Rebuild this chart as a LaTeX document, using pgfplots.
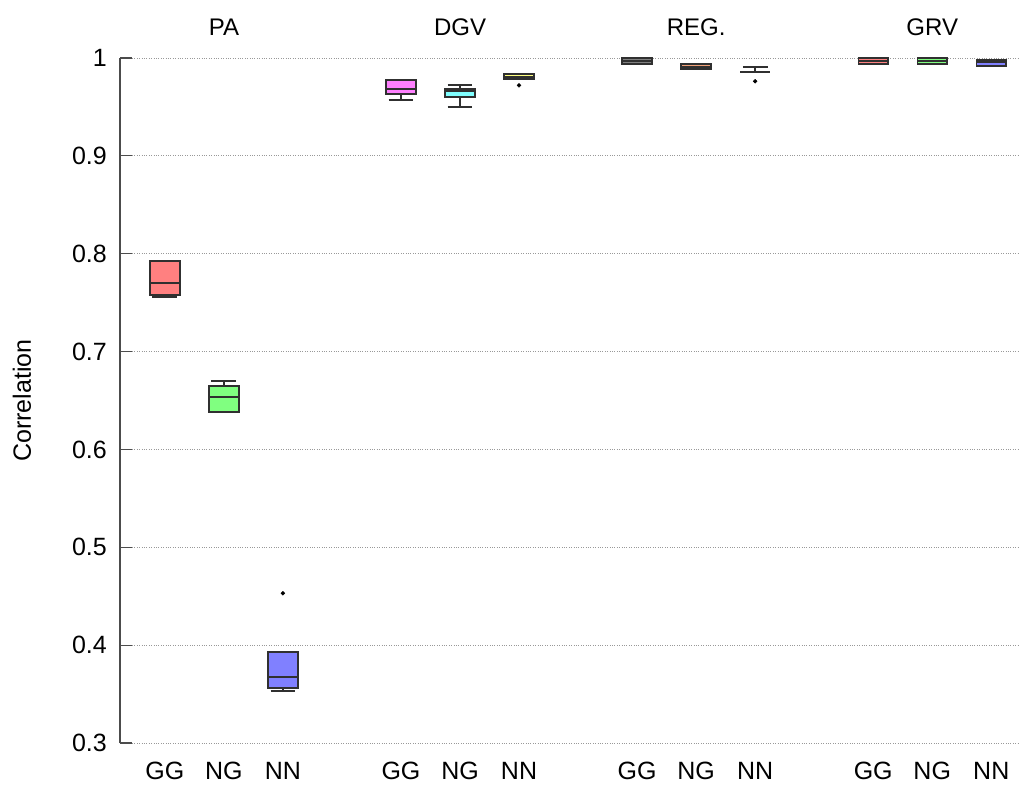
\documentclass[border=0pt]{standalone}
\usepackage{pgfplots}
\pgfplotsset{compat=1.18}
\usepgfplotslibrary{statistics}
\usepackage{fontspec}
\setmainfont{Liberation Sans}

\definecolor{bred}{HTML}{FF8080}
\definecolor{bgreen}{HTML}{80FF80}
\definecolor{bblue}{HTML}{8080FF}
\definecolor{bmagenta}{HTML}{FF80FF}
\definecolor{bcyan}{HTML}{80FFFF}
\definecolor{byellow}{HTML}{FFFF80}
\definecolor{bgray}{HTML}{808080}
\definecolor{borange}{HTML}{F0A078}
\definecolor{edge}{HTML}{303030}

\pgfplotsset{
  bx/.style={
    draw=edge, line width=1.9pt, solid,
    mark=*, mark size=1.9pt,
    mark options={draw=black, fill=black, line width=0.5pt},
    boxplot/box extend=0.5,
    boxplot/whisker extend=0.42,
    boxplot/every box/.style={draw=edge, line width=1.9pt},
    boxplot/every whisker/.style={draw=edge, line width=1.9pt},
    boxplot/every median/.style={draw=edge, line width=1.9pt},
  },
}

\begin{document}
\begin{tikzpicture}
\useasboundingbox (0,0) rectangle (1019pt,-784pt);
\begin{axis}[
  at={(120pt,-743pt)}, anchor=south west,
  scale only axis, width=899pt, height=685pt,
  xmin=-0.76, xmax=14.47, ymin=0.3, ymax=1,
  xtick={0,1,2,4,5,6,8,9,10,12,13,14},
  xticklabels={GG,NG,NN,GG,NG,NN,GG,NG,NN,GG,NG,NN},
  ytick={0.3,0.4,0.5,0.6,0.7,0.8,0.9,1},
  ymajorgrids,
  major grid style={dotted, draw=gray!80, line width=0.9pt},
  separate axis lines,
  axis x line*=bottom, axis y line*=left,
  x axis line style={draw=none},
  y axis line style={draw=black!70, line width=1.2pt, -},
  xtick style={draw=none},
  ytick style={draw=black!70, line width=1.2pt},
  tick align=inside, major tick length=12pt,
  /pgf/number format/assume math mode=true,
  tick label style={font=\fontsize{25}{30}\selectfont},
  xticklabel style={inner sep=0pt, yshift=-19pt},
  yticklabel style={inner sep=0pt, xshift=-13pt,
    /pgf/number format/fixed, /pgf/number format/precision=1},
  ylabel={Correlation},
  ylabel style={at={(axis description cs:-0.109,0.5)}, anchor=center,
    font=\fontsize{25}{30}\selectfont},
  clip=false,
  boxplot/draw direction=y,
]
% PA
\addplot[bx, fill=bred, boxplot prepared={draw position=0,
  lower whisker=0.7558, lower quartile=0.7575, median=0.7698,
  upper quartile=0.7929, upper whisker=0.7929}] coordinates {};
\addplot[bx, fill=bgreen, boxplot prepared={draw position=1,
  lower whisker=0.6383, lower quartile=0.6383, median=0.6532,
  upper quartile=0.6651, upper whisker=0.6699}] coordinates {};
\addplot[bx, fill=bblue, boxplot prepared={draw position=2,
  lower whisker=0.3535, lower quartile=0.3559, median=0.3671,
  upper quartile=0.3927, upper whisker=0.3927}]
  table[row sep=\\, y index=0] {0.4530\\};
% DGV
\addplot[bx, fill=bmagenta, boxplot prepared={draw position=4,
  lower whisker=0.9574, lower quartile=0.9632, median=0.9680,
  upper quartile=0.9775, upper whisker=0.9775}] coordinates {};
\addplot[bx, fill=bcyan, boxplot prepared={draw position=5,
  lower whisker=0.9499, lower quartile=0.9598, median=0.9666,
  upper quartile=0.9683, upper whisker=0.9724}] coordinates {};
\addplot[bx, fill=byellow, boxplot prepared={draw position=6,
  lower whisker=0.9785, lower quartile=0.9785, median=0.9810,
  upper quartile=0.9837, upper whisker=0.9837}]
  table[row sep=\\, y index=0] {0.9721\\};
% REG.
\addplot[bx, fill=bgray, boxplot prepared={draw position=8,
  lower whisker=0.9942, lower quartile=0.9942, median=0.9970,
  upper quartile=0.9997, upper whisker=0.9997}] coordinates {};
\addplot[bx, fill=borange, boxplot prepared={draw position=9,
  lower whisker=0.9888, lower quartile=0.9888, median=0.9910,
  upper quartile=0.9937, upper whisker=0.9937}] coordinates {};
\addplot[bx, fill=white, boxplot prepared={draw position=10,
  lower whisker=0.9855, lower quartile=0.9855, median=0.9855,
  upper quartile=0.9855, upper whisker=0.9905}]
  table[row sep=\\, y index=0] {0.9762\\};
% GRV
\addplot[bx, fill=bred, boxplot prepared={draw position=12,
  lower whisker=0.9939, lower quartile=0.9939, median=0.9970,
  upper quartile=0.9997, upper whisker=0.9997}] coordinates {};
\addplot[bx, fill=bgreen, boxplot prepared={draw position=13,
  lower whisker=0.9942, lower quartile=0.9942, median=0.9970,
  upper quartile=0.9997, upper whisker=0.9997}] coordinates {};
\addplot[bx, fill=bblue, boxplot prepared={draw position=14,
  lower whisker=0.9922, lower quartile=0.9922, median=0.9955,
  upper quartile=0.9983, upper whisker=0.9983}] coordinates {};

% group titles
\foreach \p/\t in {1/PA, 5/DGV, 9/REG., 13/GRV}{
  \edef\tmp{\noexpand\node[anchor=base, font=\noexpand\fontsize{24}{29}\noexpand\selectfont]
    at (axis cs:\p,1) [yshift=23pt] {\t};}
  \tmp
}
\end{axis}
\end{tikzpicture}
\end{document}
